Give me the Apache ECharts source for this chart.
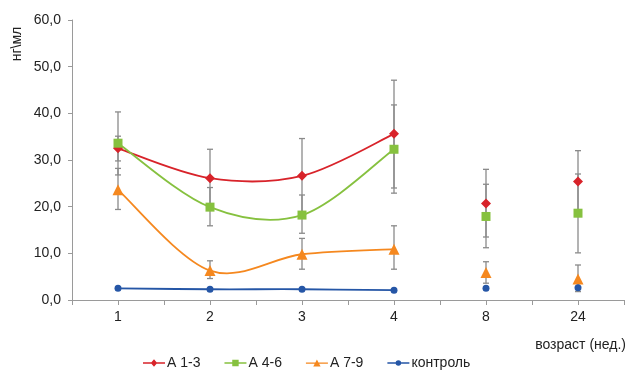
<!DOCTYPE html>
<html>
<head>
<meta charset="utf-8">
<script src="https://cdn.jsdelivr.net/npm/echarts@6/dist/echarts.min.js"></script>
<style>html,body{margin:0;padding:0;background:#fff;}#c{width:636px;height:372px;}</style>
</head>
<body>
<div id="c"></div>
<script>
var categories = ['1', '2', '3', '4', '8', '24'];
var connectedCount = 4;
var yTicks = [0, 10, 20, 30, 40, 50, 60];

var names = ['А 1-3', 'А 4-6', 'А 7-9', 'контроль'];

var a13 = [32.5, 26.1, 26.6, 35.6, 20.7, 25.4];
var a13High = [35.1, 32.3, 34.6, 47.1, 28.0, 32.0];
var a13Low = [29.8, 19.9, 18.6, 24.0, 13.5, 18.8];

var a46 = [33.6, 19.9, 18.2, 32.3, 17.9, 18.6];
var a46High = [40.3, 24.1, 22.5, 41.8, 24.8, 27.0];
var a46Low = [26.8, 15.9, 14.3, 22.9, 11.2, 10.1];

var a79 = [23.6, 6.3, 9.8, 10.9, 5.9, 4.5];
var a79High = [28.2, 8.4, 13.2, 15.9, 8.2, 7.5];
var a79Low = [19.4, 4.6, 6.6, 6.6, 3.6, 1.8];

var control = [2.5, 2.3, 2.3, 2.1, 2.5, 2.6];

var colors = ['#d8232a', '#86c13f', '#f5881f', '#2556a6'];
var symbols = ['diamond', 'rect', 'triangle', 'circle'];
var symbolSizes = [10, 9, 11, 7];
var legendIcons = [
  'path://M0,4.3H24V5.7H0Z M12,1L15.5,5L12,9L8.5,5Z',
  'path://M0,4.3H24V5.7H0Z M8.5,1.5H15.5V8.5H8.5Z',
  'path://M0,4.3H24V5.7H0Z M12,1L16,8.5L8,8.5Z',
  'path://M0,4.3H24V5.7H0Z M12,2A3,3 0 1 1 12,8A3,3 0 1 1 12,2Z'
];

var values = [a13, a46, a79, control];
var highs = [a13High, a46High, a79High, null];
var lows = [a13Low, a46Low, a79Low, null];

var FONT = 'Liberation Sans, Arial, sans-serif';
var chart = echarts.init(document.getElementById('c'), null, {renderer: 'canvas'});

var series = [];
// error bars
values.forEach(function (vals, s) {
  if (!highs[s]) return;
  var d = vals.map(function (v, i) { return [i + 1, lows[s][i], highs[s][i]]; });
  series.push({
    type: 'custom',
    silent: true,
    z: 1,
    data: d,
    renderItem: function (params, api) {
      var x = api.value(0);
      var lo = api.coord([x, api.value(1)]);
      var hi = api.coord([x, api.value(2)]);
      var cw = 3;
      var st = {stroke: '#8a8a8a', lineWidth: 1.3};
      return {
        type: 'group',
        children: [
          {type: 'line', shape: {x1: lo[0], y1: lo[1], x2: hi[0], y2: hi[1]}, style: st},
          {type: 'line', shape: {x1: lo[0] - cw, y1: lo[1], x2: lo[0] + cw, y2: lo[1]}, style: st},
          {type: 'line', shape: {x1: hi[0] - cw, y1: hi[1], x2: hi[0] + cw, y2: hi[1]}, style: st}
        ]
      };
    }
  });
});
// smoothed connecting curves (Catmull-Rom through data points, via axis coords)
values.forEach(function (vals, s) {
  var pts = vals.slice(0, connectedCount).map(function (v, i) { return [i + 1, v]; });
  series.push({
    type: 'custom',
    silent: true,
    z: 2,
    data: pts.slice(0, pts.length - 1),
    renderItem: function (params, api) {
      var i = params.dataIndex;
      var n = pts.length;
      var c = function (k) { k = Math.max(0, Math.min(n - 1, k)); return api.coord(pts[k]); };
      var p0 = c(i - 1), p1 = c(i), p2 = c(i + 1), p3 = c(i + 2);
      return {
        type: 'bezierCurve',
        shape: {
          x1: p1[0], y1: p1[1], x2: p2[0], y2: p2[1],
          cpx1: p1[0] + (p2[0] - p0[0]) / 6, cpy1: p1[1] + (p2[1] - p0[1]) / 6,
          cpx2: p2[0] - (p3[0] - p1[0]) / 6, cpy2: p2[1] - (p3[1] - p1[1]) / 6
        },
        style: {stroke: colors[s], lineWidth: 1.8, fill: null}
      };
    }
  });
});
// markers
values.forEach(function (vals, s) {
  series.push({
    name: names[s],
    type: 'scatter',
    z: 3,
    data: vals.map(function (v, i) { return [i + 1, v]; }),
    symbol: symbols[s],
    symbolSize: symbolSizes[s],
    itemStyle: {color: colors[s], opacity: 1}
  });
});

chart.setOption({
  animation: false,
  backgroundColor: '#ffffff',
  grid: {left: 72, right: 12, top: 20, bottom: 72, containLabel: false},
  legend: {
    data: names.map(function (n, i) { return {name: n, icon: legendIcons[i]}; }),
    left: 143,
    top: 356,
    padding: 0,
    itemGap: 24,
    itemWidth: 22,
    itemHeight: 9,
    textStyle: {fontFamily: FONT, fontSize: 14, color: '#222', padding: [0, 0, 0, -3]}
  },
  xAxis: {
    type: 'value',
    min: 0.5,
    max: 6.5,
    interval: 0.5,
    splitLine: {show: false},
    axisLine: {lineStyle: {color: '#9a9a9a', width: 1}},
    axisTick: {show: true, length: 5, lineStyle: {color: '#9a9a9a'}},
    axisLabel: {
      margin: 10,
      fontFamily: FONT,
      fontSize: 14,
      color: '#222',
      showMinLabel: true,
      showMaxLabel: true,
      formatter: function (v) {
        var r = Math.round(v);
        return (Math.abs(v - r) < 1e-6 && r >= 1 && r <= categories.length) ? categories[r - 1] : '';
      }
    }
  },
  yAxis: {
    type: 'value',
    min: yTicks[0],
    max: yTicks[yTicks.length - 1],
    interval: yTicks[1] - yTicks[0],
    splitLine: {show: false},
    axisLine: {show: true, lineStyle: {color: '#9a9a9a', width: 1}},
    axisTick: {show: true, length: 4, lineStyle: {color: '#9a9a9a'}},
    axisLabel: {
      margin: 11,
      fontFamily: FONT,
      fontSize: 14,
      color: '#222',
      formatter: function (v) { return v.toFixed(1).replace('.', ','); }
    }
  },
  graphic: [
    {
      type: 'text',
      x: 17,
      y: 44,
      rotation: Math.PI / 2,
      style: {
        text: 'нг\\мл',
        fontFamily: FONT,
        fontSize: 14,
        fill: '#222',
        align: 'center',
        verticalAlign: 'middle'
      }
    },
    {
      type: 'text',
      right: 10,
      top: 338,
      style: {
        text: 'возраст (нед.)',
        fontFamily: FONT,
        fontSize: 14,
        fill: '#222'
      }
    }
  ],
  series: series
});
</script>
</body>
</html>
